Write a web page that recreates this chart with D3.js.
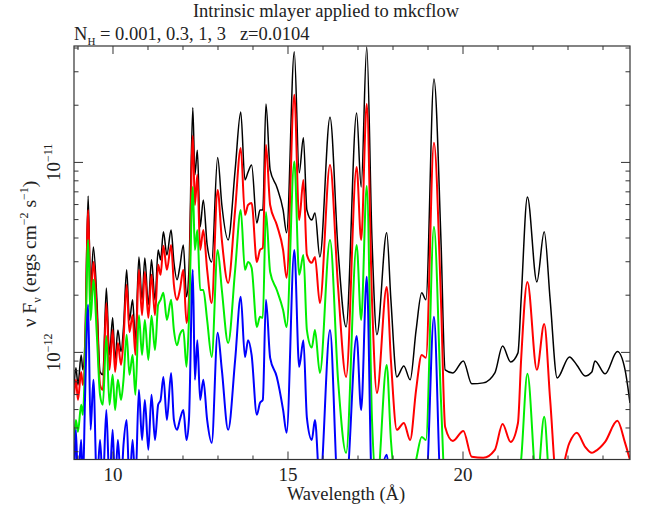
<!DOCTYPE html>
<html>
<head>
<meta charset="utf-8">
<script src="https://cdn.jsdelivr.net/npm/d3@7"></script>
<style>
  body { margin: 0; background: #fff; }
  text { font-family: "Liberation Serif", "Times New Roman", serif; fill: #222; }
</style>
</head>
<body>
<svg id="chart" width="649" height="508"></svg>
<script>
// Wavelength (Angstrom) of the peak / trough vertices
const wavelength = [
  8.89, 8.94, 9.00, 9.09, 9.14, 9.20, 9.29, 9.36, 9.44, 9.54,
  9.63, 9.71, 9.81, 9.90, 9.99, 10.06, 10.14, 10.23, 10.30, 10.39,
  10.47, 10.56, 10.64, 10.74, 10.83, 10.91, 11.01, 11.10, 11.20, 11.29,
  11.36, 11.44, 11.54, 11.66, 11.74, 11.83, 11.91, 12.01, 12.10, 12.17,
  12.28, 12.34, 12.41, 12.49, 12.58, 12.69, 12.82, 12.99, 13.11, 13.29,
  13.49, 13.65, 13.77, 13.86, 13.96, 14.11, 14.20, 14.28, 14.37, 14.49,
  14.68, 14.86, 14.96, 15.18, 15.32, 15.44, 15.54, 15.68, 15.77, 15.91,
  16.20, 16.43, 16.66, 16.96, 17.09, 17.25, 17.40, 17.54, 17.82, 17.94,
  18.11, 18.31, 18.49, 18.66, 18.82, 18.94, 19.17, 19.37, 19.49, 19.71,
  20.01, 20.25, 20.58, 20.91, 21.13, 21.36, 21.57, 21.66, 21.84, 22.11,
  22.32, 22.49, 22.69, 23.04, 23.25, 23.49, 23.68, 23.77, 24.06, 24.41,
  24.63, 24.77
];

// nu F_nu in units of 1e-12 ergs cm^-2 s^-1, one array per N_H
const flux_nh0001 = [ // black
  0.674, 0.829, 0.674, 0.970, 0.809, 1.16, 6.66, 2.13, 3.59, 1.89,
  0.789, 0.762, 2.18, 0.970, 1.52, 0.913, 1.31, 1.01, 1.35, 2.72,
  1.48, 1.89, 1.16, 3.18, 1.89, 3.14, 1.78, 3.07, 1.89, 3.46,
  3.07, 4.31, 3.26, 4.41, 2.99, 2.41, 2.83, 3.68, 1.96, 2.72,
  19.4, 8.60, 11.6, 4.58, 6.35, 3.68, 2.99, 10.6, 5.97, 3.91,
  9.14, 18.4, 8.09, 8.91, 9.70, 4.80, 5.62, 5.62, 20.3, 9.14,
  7.43, 5.62, 4.26, 38.2, 8.81, 13.5, 5.62, 4.98, 5.42, 3.18,
  17.3, 3.46, 1.36, 18.2, 7.43, 40.5, 3.91, 1.24, 4.26, 1.89,
  0.743, 0.849, 0.717, 1.31, 2.06, 1.89, 27.5, 3.91, 0.809, 0.780,
  0.902, 0.683, 0.691, 0.780, 1.08, 0.891, 0.994, 1.89, 6.58, 2.35,
  4.31, 1.89, 0.734, 0.947, 0.859, 0.752, 0.789, 0.902, 0.771, 1.01,
  0.809, 0.542
];

const flux_nh03 = [ // red
  0.598, 0.717, 0.562, 0.789, 0.674, 0.970, 5.62, 1.89, 2.99, 1.57,
  0.674, 0.635, 1.82, 0.809, 1.31, 0.789, 1.12, 0.859, 1.16, 2.27,
  1.28, 1.57, 0.970, 2.72, 1.57, 2.65, 1.52, 2.56, 1.57, 2.89,
  2.56, 3.64, 2.72, 3.68, 2.27, 1.89, 2.13, 2.72, 1.43, 1.89,
  13.8, 5.97, 8.60, 3.46, 4.41, 2.72, 1.82, 7.16, 3.91, 2.32,
  5.62, 11.9, 5.29, 5.97, 6.12, 2.99, 3.46, 3.55, 12.4, 5.97,
  4.69, 3.46, 2.47, 22.7, 4.98, 8.09, 3.26, 2.96, 3.18, 1.82,
  9.70, 2.21, 0.743, 9.46, 3.91, 20.3, 1.89, 0.612, 2.21, 0.913,
  0.391, 0.425, 0.346, 0.635, 0.970, 0.936, 12.7, 1.89, 0.405, 0.342,
  0.386, 0.282, 0.279, 0.307, 0.420, 0.338, 0.425, 0.913, 2.35, 0.809,
  1.41, 0.562, 0.200, 0.334, 0.377, 0.318, 0.296, 0.301, 0.338, 0.436,
  0.334, 0.272
];

const flux_nh1 = [ // green
  0.346, 0.441, 0.382, 0.530, 0.469, 0.859, 3.91, 1.48, 2.41, 1.22,
  0.598, 0.530, 1.22, 0.530, 0.762, 0.498, 0.717, 0.562, 0.717, 1.24,
  0.762, 0.970, 0.598, 1.57, 0.970, 1.48, 0.913, 1.56, 1.03, 1.78,
  1.89, 2.06, 1.48, 1.89, 1.31, 1.09, 1.24, 1.31, 0.839, 1.48,
  7.43, 3.46, 4.41, 2.13, 2.13, 1.48, 0.947, 3.46, 2.13, 1.12,
  2.72, 5.62, 2.72, 2.99, 2.79, 1.36, 1.54, 1.52, 5.49, 2.65,
  2.13, 1.67, 1.36, 10.1, 2.56, 3.26, 1.31, 1.06, 1.31, 0.780,
  3.91, 0.717, 0.296, 3.68, 1.48, 7.52, 0.441, 0.200, 0.859, 0.346,
  0.200, 0.200, 0.200, 0.272, 0.359, 0.346, 4.58, 0.562, 0.200, 0.200,
  0.200, 0.200, 0.200, 0.200, 0.200, 0.200, 0.200, 0.272, 0.771, 0.200,
  0.458, 0.200, 0.200, 0.200, 0.200, 0.200, 0.200, 0.200, 0.200, 0.200,
  0.200, 0.200
];

const flux_nh3 = [ // blue
  0.200, 0.391, 0.200, 0.346, 0.200, 0.562, 1.78, 0.391, 0.717, 0.200,
  0.346, 0.200, 0.498, 0.200, 0.391, 0.200, 0.346, 0.200, 0.326, 0.441,
  0.200, 0.346, 0.200, 0.635, 0.346, 0.562, 0.307, 0.598, 0.346, 0.530,
  0.562, 0.743, 0.441, 0.780, 0.441, 0.391, 0.441, 0.498, 0.346, 0.441,
  2.72, 0.717, 1.16, 0.562, 0.717, 0.441, 0.334, 1.27, 0.809, 0.391,
  0.913, 1.96, 0.947, 1.16, 0.970, 0.469, 0.542, 0.562, 1.89, 0.936,
  0.743, 0.498, 0.377, 3.46, 0.839, 1.16, 0.452, 0.346, 0.441, 0.200,
  1.31, 0.200, 0.200, 1.22, 0.498, 2.50, 0.200, 0.200, 0.289, 0.200,
  0.200, 0.200, 0.200, 0.200, 0.200, 0.200, 1.54, 0.200, 0.200, 0.200,
  0.200, 0.200, 0.200, 0.200, 0.200, 0.200, 0.200, 0.200, 0.200, 0.200,
  0.200, 0.200, 0.200, 0.200, 0.200, 0.200, 0.200, 0.200, 0.200, 0.200,
  0.200, 0.200
];

const seriesColors = ["#000000", "#ff0000", "#00ee00", "#0000ff"];

// Axis ticks
const xMajorTicks = [10, 15, 20];
const xMinorTicks = [9, 11, 12, 13, 14, 16, 17, 18, 19, 21, 22, 23, 24];
const yMajorTicks = [1, 10];                 // 1e-12, 1e-11
const yMajorLabels = ["-12", "-11"];
const yMinorTicks = [0.3, 0.4, 0.5, 0.6, 0.7, 0.8, 0.9, 2, 3, 4, 5, 6, 7, 8, 9, 20, 30, 40];

/// LAYOUT ///
const svg = d3.select("#chart");
const plot = { left: 74, right: 630, top: 46, bottom: 459.5 };

const x = d3.scaleLinear()
  .domain([8.886, 24.771])
  .range([plot.left, plot.right]);

const y = d3.scaleLog()
  .domain([0.273, 41])
  .range([plot.bottom, plot.top]);

svg.append("clipPath").attr("id", "plotClip")
  .append("rect")
  .attr("x", plot.left).attr("y", plot.top)
  .attr("width", plot.right - plot.left).attr("height", plot.bottom - plot.top);

/// CURVES ///
const line = d3.line()
  .x(d => x(d[0]))
  .y(d => y(d[1]))
  .curve(d3.curveMonotoneX);

const allSeries = [flux_nh0001, flux_nh03, flux_nh1, flux_nh3];
const curves = svg.append("g").attr("clip-path", "url(#plotClip)");
allSeries.forEach((vals, i) => {
  curves.append("path")
    .datum(wavelength.map((w, j) => [w, vals[j]]))
    .attr("fill", "none")
    .attr("stroke", seriesColors[i])
    .attr("stroke-width", i === 0 ? 1.5 : 2)
    .attr("stroke-linejoin", "round")
    .attr("d", line);
});

/// FRAME + TICKS ///
const axisColor = "#333";
svg.append("rect")
  .attr("x", plot.left).attr("y", plot.top)
  .attr("width", plot.right - plot.left).attr("height", plot.bottom - plot.top)
  .attr("fill", "none").attr("stroke", axisColor).attr("stroke-width", 1.2);

const ticks = svg.append("g").attr("stroke", axisColor).attr("stroke-width", 1);
function xTick(v, len) {
  ticks.append("line").attr("x1", x(v)).attr("x2", x(v)).attr("y1", plot.bottom).attr("y2", plot.bottom - len);
  ticks.append("line").attr("x1", x(v)).attr("x2", x(v)).attr("y1", plot.top).attr("y2", plot.top + len);
}
function yTick(v, len) {
  ticks.append("line").attr("y1", y(v)).attr("y2", y(v)).attr("x1", plot.left).attr("x2", plot.left + len);
  ticks.append("line").attr("y1", y(v)).attr("y2", y(v)).attr("x1", plot.right).attr("x2", plot.right - len);
}
xMajorTicks.forEach(v => xTick(v, 8));
xMinorTicks.forEach(v => xTick(v, 4));
yMajorTicks.forEach(v => yTick(v, 9));
yMinorTicks.forEach(v => yTick(v, 4.5));

// x tick labels
svg.append("g").selectAll("text")
  .data(xMajorTicks)
  .enter().append("text")
  .attr("x", d => x(d)).attr("y", 481)
  .attr("text-anchor", "middle")
  .attr("font-size", 19)
  .text(d => d);

// y tick labels (rotated, 10^n)
yMajorTicks.forEach((v, i) => {
  const t = svg.append("text")
    .attr("transform", `translate(60,${y(v)}) rotate(-90)`)
    .attr("text-anchor", "middle")
    .attr("font-size", 19);
  t.append("tspan").text("10");
  t.append("tspan").attr("dy", -8).attr("font-size", 12).text(yMajorLabels[i].replace("-", "\u2212"));
});

/// LABELS ///
svg.append("text")
  .attr("x", 346).attr("y", 500)
  .attr("text-anchor", "middle")
  .attr("font-size", 18.5)
  .text("Wavelength (\u00c5)");

const yl = svg.append("text")
  .attr("transform", `translate(36,254) rotate(-90)`)
  .attr("text-anchor", "middle")
  .attr("font-size", 19.5);
yl.append("tspan").text("\u03bd F");
yl.append("tspan").attr("dy", 5).attr("font-size", 12).text("\u03bd");
yl.append("tspan").attr("dy", -5).text(" (ergs cm");
yl.append("tspan").attr("dy", -8).attr("font-size", 12).text("\u22122");
yl.append("tspan").attr("dy", 8).text(" s");
yl.append("tspan").attr("dy", -8).attr("font-size", 12).text("\u22121");
yl.append("tspan").attr("dy", 8).text(")");

svg.append("text")
  .attr("x", 326).attr("y", 17)
  .attr("text-anchor", "middle")
  .attr("font-size", 18.5)
  .text("Intrinsic mlayer applied to mkcflow");

const sub = svg.append("text")
  .attr("x", 74).attr("y", 40)
  .attr("font-size", 18.5)
  .style("white-space", "pre");
sub.append("tspan").text("N");
sub.append("tspan").attr("dy", 5).attr("font-size", 11).text("H");
sub.append("tspan").attr("dy", -5).text(" = 0.001, 0.3, 1, 3   z=0.0104");
</script>
</body>
</html>
